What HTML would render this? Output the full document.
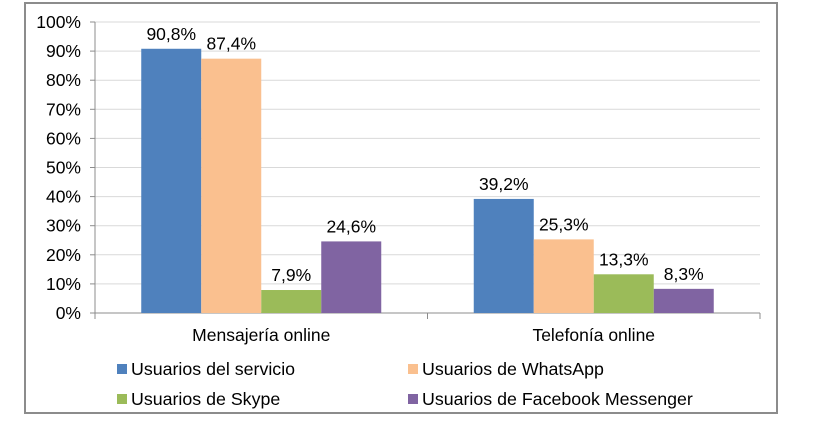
<!DOCTYPE html>
<html><head><meta charset="utf-8"><style>
body{margin:0;background:#fff;}
svg{display:block;font-family:"Liberation Sans",Arial,sans-serif;}
</style></head><body>
<svg id="c" width="830" height="427">
<rect x="25" y="3" width="752" height="410" fill="#fff" stroke="#8c8c8c" stroke-width="2"/>
</svg>
<script>
const categories=["Mensajería online","Telefonía online"];
const seriesNames=["Usuarios del servicio","Usuarios de WhatsApp","Usuarios de Skype","Usuarios de Facebook Messenger"];
const seriesColors=["#4f81bd","#fac08f","#9bbb59","#8064a2"];
const servicio=[90.8,39.2];
const whatsapp=[87.4,25.3];
const skype=[7.9,13.3];
const messenger=[24.6,8.3];
const valueLabels=[["90,8%","39,2%"],["87,4%","25,3%"],["7,9%","13,3%"],["24,6%","8,3%"]];
const yTicks=[0,10,20,30,40,50,60,70,80,90,100];
const series=[servicio,whatsapp,skype,messenger];
const svg=document.getElementById('c');const NS="http://www.w3.org/2000/svg";
const X0=95,X1=760,Y0=313,Y100=22;
const y=v=>Y0-(v/100)*(Y0-Y100);
const gw=(X1-X0)/categories.length,bw=60;
function mk(t,a,txt){const e=document.createElementNS(NS,t);for(const k in a)e.setAttribute(k,a[k]);if(txt!==undefined)e.textContent=txt;svg.appendChild(e);return e;}
yTicks.forEach(t=>{
 if(t>0){const g=mk('line',{x1:X0,x2:X1,y1:y(t),y2:y(t),stroke:'#d9d9d9'});
 
 }
 const tk=mk('line',{x1:X0-5,x2:X0,y1:y(t),y2:y(t),stroke:'#8c8c8c'});
 
 
 const l=mk('text',{x:X0-14,y:y(t)+6,'text-anchor':'end','font-size':17.5,fill:'#000'},t+'%');
 
 
});
const ax=mk('line',{x1:X0,x2:X0,y1:Y100,y2:Y0,stroke:'#8c8c8c'});


const xa=mk('line',{x1:X0,x2:X1,y1:Y0,y2:Y0,stroke:'#8c8c8c'});


[0,1,2].forEach(i=>{const t=mk('line',{x1:X0+i*gw,x2:X0+i*gw,y1:Y0,y2:Y0+6,stroke:'#8c8c8c'});
 
 });
categories.forEach((c,ci)=>{
 const cx=X0+gw*(ci+0.5);
 series.forEach((s,si)=>{
  const bx=cx-2*bw+si*bw;
  const r=mk('rect',{x:bx,y:y(s[ci]),width:bw,height:Y0-y(s[ci]),fill:seriesColors[si]});
  
  
  const t=mk('text',{x:bx+bw/2,y:y(s[ci])-9,'text-anchor':'middle','font-size':17.5},valueLabels[si][ci]);
  
  
 });
 const l=mk('text',{x:cx,y:341,'text-anchor':'middle','font-size':17.5},c);
 
 
});
const lpos=[[117,369],[408,369],[117,399],[408,399]];
seriesNames.forEach((n,i)=>{
 const [lx,ly]=lpos[i];
 const r=mk('rect',{x:lx,y:ly-5,width:10,height:10,fill:seriesColors[i]});
 
 
 const t=mk('text',{x:lx+14,y:ly+6,'font-size':17.8},n);
 
 
});
</script>
</body></html>
